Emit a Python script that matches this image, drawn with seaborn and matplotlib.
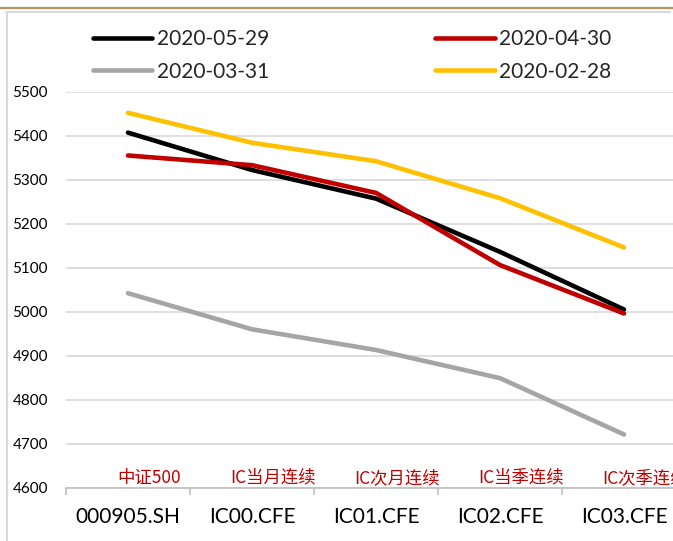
import numpy as np
import pandas as pd
import matplotlib
matplotlib.use("Agg")
import matplotlib.pyplot as plt
import matplotlib.transforms as mtransforms
from matplotlib.lines import Line2D
import seaborn as sns

codes = ["000905.SH", "IC00.CFE", "IC01.CFE", "IC02.CFE", "IC03.CFE"]
names = ["中证500", "IC当月连续", "IC次月连续", "IC当季连续", "IC次季连续"]
dates = ["2020-05-29", "2020-04-30", "2020-03-31", "2020-02-28"]
v_0529 = [5407, 5322, 5257, 5136, 5005]
v_0430 = [5355, 5333, 5270, 5106, 4996]
v_0331 = [5042, 4960, 4913, 4849, 4721]
v_0228 = [5452, 5384, 5342, 5258, 5146]
colors = ["#000000", "#C00000", "#A5A5A5", "#FFC000"]

series = [v_0529, v_0430, v_0331, v_0228]
rows = []
for d, vals in zip(dates, series):
    for i, v in enumerate(vals):
        rows.append({"pos": i, "date": d, "value": v})
df = pd.DataFrame(rows)

sns.set_style("white")
plt.rcParams["font.family"] = ["Lato", "Noto Sans CJK SC", "DejaVu Sans"]

W, H = 673, 541
fig = plt.figure(figsize=(W / 100, H / 100), dpi=100)
ax = fig.add_axes([66 / W, (H - 487.7) / H, (686 - 66) / W, (487.7 - 91.7) / H])

sns.lineplot(data=df, x="pos", y="value", hue="date", hue_order=dates,
             palette=colors, linewidth=3.3, ax=ax, legend=False,
             solid_capstyle="round", solid_joinstyle="round")

ax.set_xlim(-0.5, 4.5)
ax.set_ylim(4600, 5500)
ax.set_yticks(np.arange(4600, 5501, 100))
ax.yaxis.grid(True, color="#D9D9D9", linewidth=1.2)
ax.set_axisbelow(True)
for s in ["top", "right", "left"]:
    ax.spines[s].set_visible(False)
ax.spines["bottom"].set_color("#BFBFBF")
ax.spines["bottom"].set_linewidth(1.2)

ax.set_xticks(range(len(codes)))
ax.set_xticklabels(codes)
ax.set_xticks(np.arange(-0.5, 5, 1), minor=True)
ax.tick_params(axis="x", which="major", length=0, pad=14, labelsize=15, colors="#000000")
ax.tick_params(axis="x", which="minor", length=5, width=1.2, color="#BFBFBF", direction="out", bottom=True)
ax.tick_params(axis="y", length=0, pad=13, labelsize=11, colors="#000000")
ax.set_xlabel("")
ax.set_ylabel("")

trans = mtransforms.blended_transform_factory(ax.transData, ax.transAxes)
for i, n in enumerate(names):
    ax.text(i + 0.17, 0.025, n, transform=trans, ha="center", va="center",
            fontsize=12.5, color="#C00000", family=["Noto Sans CJK SC", "DejaVu Sans"])

handles = [Line2D([], [], color=c, linewidth=3.3, solid_capstyle="round") for c in colors]
order = [0, 2, 1, 3]
fig.legend([handles[k] for k in order], [dates[k] for k in order],
           loc="upper left", bbox_to_anchor=(93 / W, 1 - 29 / H), ncol=2,
           frameon=False, fontsize=15, handlelength=2.85, handletextpad=0.2,
           columnspacing=8.0, labelspacing=0.6, borderpad=0, borderaxespad=0)

# frame lines around the chart
fig.add_artist(Line2D([0, 1], [1 - 7.5 / H, 1 - 7.5 / H], transform=fig.transFigure,
                      color="#B39563", linewidth=1.6))
fig.add_artist(Line2D([6 / W, 670 / W], [1 - 11.5 / H, 1 - 11.5 / H], transform=fig.transFigure,
                      color="#D9D9D9", linewidth=1.5))
fig.add_artist(Line2D([6.5 / W, 6.5 / W], [0, 1 - 11.5 / H], transform=fig.transFigure,
                      color="#D9D9D9", linewidth=1.5))

fig.savefig("out.png", dpi=100)
